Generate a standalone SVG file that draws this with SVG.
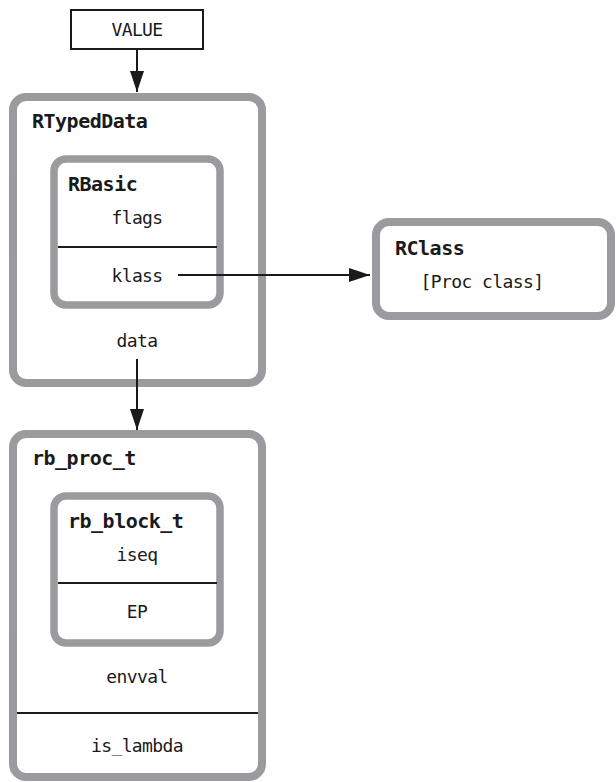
<svg xmlns="http://www.w3.org/2000/svg" width="616" height="782" viewBox="0 0 616 782">
<style>
.box{fill:#fff;stroke:#9a9b9e;stroke-width:8}
.inner{fill:#fff;stroke:#9a9b9e;stroke-width:7.5}
.div{stroke:#1a1a1a;stroke-width:2}
.t{font-family:"DejaVu Sans Mono","Liberation Mono",monospace;font-size:18px;letter-spacing:-0.6px;fill:#1a1a1a;text-anchor:middle}
.b{font-family:"DejaVu Sans Mono","Liberation Mono",monospace;font-size:20px;letter-spacing:-0.5px;font-weight:bold;fill:#1a1a1a}
.conn{stroke:#1a1a1a;stroke-width:2;fill:none}
</style>
<defs>
<marker id="ah" markerUnits="userSpaceOnUse" markerWidth="22" markerHeight="14" refX="21" refY="7" orient="auto">
<path d="M0,0 L21,7 L0,14 Z" fill="#1a1a1a"/>
</marker>
</defs>
<g id="value">
<rect x="71" y="10" width="132" height="39" fill="#fff" stroke="#1a1a1a" stroke-width="2"/>
<text class="t" x="137" y="36">VALUE</text>
</g>
<g id="rtypeddata">
<rect class="box" x="13" y="97" width="249" height="286" rx="13"/>
<text class="b" x="32" y="128">RTypedData</text>
<text class="t" x="137" y="347">data</text>
</g>
<g id="rbasic">
<rect class="inner" x="54" y="159" width="166" height="146" rx="12"/>
<text class="b" x="68" y="191">RBasic</text>
<text class="t" x="137" y="224">flags</text>
<line class="div" x1="58" y1="247" x2="217" y2="247"/>
<text class="t" x="137" y="282">klass</text>
</g>
<g id="rclass">
<rect class="box" x="376" y="222" width="235" height="94" rx="13"/>
<text class="b" x="395" y="255">RClass</text>
<text class="t" x="482" y="288">[Proc class]</text>
</g>
<g id="rb_proc_t">
<rect class="box" x="13" y="434" width="249" height="343" rx="13"/>
<text class="b" x="32" y="465">rb_proc_t</text>
<text class="t" x="137" y="683">envval</text>
<line class="div" x1="17" y1="713" x2="258" y2="713"/>
<text class="t" x="137" y="752">is_lambda</text>
</g>
<g id="rb_block_t">
<rect class="inner" x="54" y="496" width="166" height="147" rx="12"/>
<text class="b" x="68" y="528">rb_block_t</text>
<text class="t" x="137" y="561">iseq</text>
<line class="div" x1="58" y1="583" x2="217" y2="583"/>
<text class="t" x="137" y="618">EP</text>
</g>
<g id="connectors">
<line class="conn" x1="137" y1="49" x2="137" y2="92" marker-end="url(#ah)"/>
<line class="conn" x1="178" y1="275" x2="370" y2="275" marker-end="url(#ah)"/>
<line class="conn" x1="137" y1="359" x2="137" y2="430" marker-end="url(#ah)"/>
</g>
</svg>
